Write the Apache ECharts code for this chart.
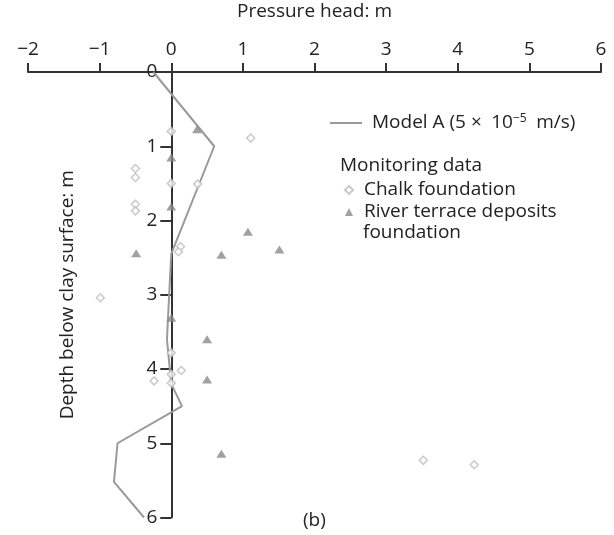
<!DOCTYPE html>
<html>
<head>
<meta charset="utf-8">
<style>
  html, body { margin: 0; padding: 0; background: #fff; }
  #chart { width: 614px; height: 535px; }
</style>
<script src="https://cdn.jsdelivr.net/npm/echarts@6/dist/echarts.min.js"></script>
</head>
<body>
<div id="chart"></div>
<script>
  // Pressure head (m) vs depth below clay surface (m)
  const xTicks = [-2, -1, 0, 1, 2, 3, 4, 5, 6];
  const depthTicks = [0, 1, 2, 3, 4, 5, 6];

  const modelHead = [-0.25, 0.6, 0.0, -0.06, 0.0, 0.15, -0.75, -0.8, -0.38];
  const modelDepth = [0, 1.0, 2.45, 3.6, 4.2, 4.5, 5.0, 5.52, 6.0];

  const chalkHead = [0, 1.11, -0.5, -0.5, 0, 0.37, -0.5, -0.5, 0.13, 0.1, -0.99, 0, 0.14, 0, -0.24, 0, 3.52, 4.23];
  const chalkDepth = [0.8, 0.89, 1.3, 1.42, 1.5, 1.51, 1.78, 1.87, 2.35, 2.42, 3.04, 3.78, 4.02, 4.07, 4.16, 4.19, 5.23, 5.29];

  const terraceHead = [0.36, 0, 0, 1.07, -0.49, 0.7, 1.51, 0, 0.5, 0.5, 0.7];
  const terraceDepth = [0.77, 1.15, 1.81, 2.15, 2.44, 2.46, 2.39, 3.31, 3.6, 4.14, 5.14];

  const FONT = '"Open Sans", "Noto Sans", sans-serif';
  const AXIS = '#333';
  const TEXT = '#222';
  const FS = 19;

  const GRID_LEFT = 28;
  const GRID_WIDTH = 573;

  const pairs = (xs, ys) => xs.map((x, i) => [x, ys[i]]);
  const minus = (v) => (v < 0 ? '\u2212' + Math.abs(v) : String(v));

  // depth axis sits on pressure head = 0; shift it in from the grid's left edge
  const xMin = xTicks[0];
  const xMax = xTicks[xTicks.length - 1];
  const zeroShift = ((0 - xMin) / (xMax - xMin)) * GRID_WIDTH;

  const chart = echarts.init(document.getElementById('chart'));

  chart.setOption({
    animation: false,
    textStyle: { fontFamily: FONT },
    grid: {
      left: GRID_LEFT,
      width: GRID_WIDTH,
      top: 72,
      bottom: 17.5,
      containLabel: false,
      outerBoundsMode: 'none',
    },
    xAxis: {
      type: 'value',
      position: 'top',
      min: xMin,
      max: xMax,
      interval: 1,
      name: 'Pressure head: m',
      nameLocation: 'middle',
      nameGap: 51,
      nameTextStyle: { fontSize: FS, color: TEXT, fontFamily: FONT },
      axisLine: { onZero: false, lineStyle: { color: AXIS, width: 2 } },
      axisTick: { length: 9, lineStyle: { color: AXIS, width: 2 } },
      axisLabel: { fontSize: FS, color: TEXT, margin: 13, formatter: minus },
      splitLine: { show: false },
    },
    yAxis: {
      type: 'value',
      position: 'left',
      offset: -zeroShift,
      inverse: true,
      min: depthTicks[0],
      max: depthTicks[depthTicks.length - 1],
      interval: 1,
      name: 'Depth below clay surface: m',
      nameLocation: 'middle',
      nameGap: 94,
      nameTextStyle: { fontSize: FS, color: TEXT, fontFamily: FONT },
      axisLine: { onZero: false, lineStyle: { color: AXIS, width: 2 } },
      axisTick: { length: 11, lineStyle: { color: AXIS, width: 2 } },
      axisLabel: { fontSize: FS, color: TEXT, margin: 14 },
      splitLine: { show: false },
    },
    legend: [
      {
        orient: 'vertical',
        left: 330,
        top: 113,
        padding: 0,
        itemWidth: 32,
        itemHeight: 2,
        textStyle: {
          fontSize: FS,
          color: TEXT,
          padding: [0, 0, 0, 5],
          rich: { sup: { fontSize: 12, verticalAlign: 'top', padding: [0, 0, 8, 0] } },
        },
        data: [{ name: 'Model A', icon: 'rect' }],
        formatter: () => 'Model A (5 \u00d7\u200210{sup|\u22125}\u2002m/s)',
        selectedMode: false,
      },
      {
        orient: 'vertical',
        left: 344,
        top: 179,
        padding: 0,
        itemGap: 0,
        itemWidth: 8,
        itemHeight: 8,
        textStyle: { fontSize: FS, color: TEXT, lineHeight: 22, padding: [0, 0, 0, 6] },
        data: ['Chalk foundation', 'River terrace deposits'],
        selectedMode: false,
      },
    ],
    graphic: [
      {
        type: 'text',
        left: 340,
        top: 156,
        style: { text: 'Monitoring data', font: FS + 'px ' + FONT, fill: TEXT },
      },
      {
        type: 'text',
        left: 363,
        top: 223,
        style: { text: 'foundation', font: FS + 'px ' + FONT, fill: TEXT },
      },
      {
        type: 'text',
        left: 303,
        top: 511,
        style: { text: '(b)', font: FS + 'px ' + FONT, fill: TEXT },
      },
    ],
    series: [
      {
        name: 'Model A',
        type: 'line',
        symbol: 'none',
        data: pairs(modelHead, modelDepth),
        lineStyle: { color: '#9a9a9a', width: 2 },
        itemStyle: { color: '#9a9a9a' },
        z: 2,
      },
      {
        name: 'Chalk foundation',
        type: 'scatter',
        symbol: 'diamond',
        symbolSize: 8,
        data: pairs(chalkHead, chalkDepth),
        itemStyle: { color: '#fff', borderColor: '#bdbdbd', borderWidth: 1.5 },
        z: 3,
      },
      {
        name: 'River terrace deposits',
        type: 'scatter',
        symbol: 'triangle',
        symbolSize: [10, 8],
        data: pairs(terraceHead, terraceDepth),
        itemStyle: { color: '#8a8a8a' },
        z: 4,
      },
    ],
  });
</script>
</body>
</html>
